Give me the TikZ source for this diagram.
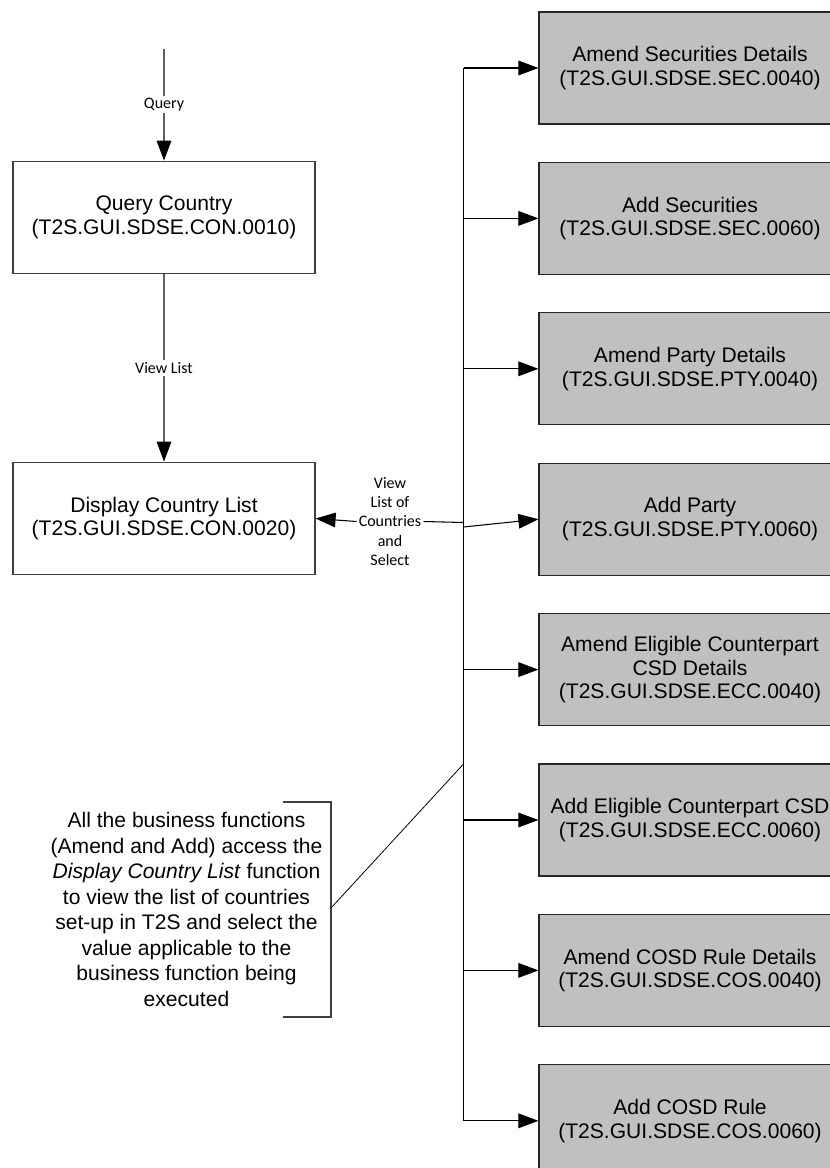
\documentclass[tikz,border=0pt]{standalone}
\usepackage{fontspec}
\setmainfont{Liberation Sans}
\newfontfamily\calfont{Carlito}
\usetikzlibrary{arrows.meta}
\definecolor{boxgray}{HTML}{C0C0C0}
\definecolor{edgegray}{HTML}{404040}
\definecolor{flowgray}{HTML}{606060}
\begin{document}
\begin{tikzpicture}[x=0.75pt,y=-0.75pt,
  fbox/.style={draw=edgegray, line width=0.9pt, minimum width=226.5pt, minimum height=84.5pt,
    align=center, inner sep=0pt, font=\fontsize{15.8}{17.7}\selectfont},
  gbox/.style={fbox, draw=black!85, fill=boxgray, minimum height=84pt},
  tip/.style={-{Triangle[length=15pt,width=11pt,color=black]}},
  flowline/.style={draw=flowgray, line width=0.8pt},
  trunkline/.style={draw=black, line width=0.8pt},
  lbl/.style={font=\calfont\fontsize{12}{14.6}\selectfont, fill=white, inner sep=1.5pt, align=center},
  notetext/.style={font=\fontsize{15.8}{19.1}\selectfont, align=center, inner sep=0pt},
  bracketline/.style={draw=edgegray, line width=0.8pt},
  noteline/.style={draw=black, line width=0.6pt}]
\clip (0,0) rectangle (830,1168);
\fill[white] (0,0) rectangle (830,1168);

% left flow
\node[fbox] (query) at (164,217.5) {Query Country\\(T2S.GUI.SDSE.CON.0010)};
\node[fbox] (display) at (164,518.5) {Display Country List\\(T2S.GUI.SDSE.CON.0020)};
\coordinate (qstart) at (164,49);
\draw[flowline, tip] (qstart) -- node[lbl] {Query} (query.north);
\draw[flowline, tip] (query.south) -- node[lbl] {View List} (display.north);

% right column
\node[gbox] (b1) at (690,68) {Amend Securities Details\\(T2S.GUI.SDSE.SEC.0040)};
\node[gbox] (b2) at (690,218.4) {Add Securities\\(T2S.GUI.SDSE.SEC.0060)};
\node[gbox] (b3) at (690,368.8) {Amend Party Details\\(T2S.GUI.SDSE.PTY.0040)};
\node[gbox] (b4) at (690,519.2) {Add Party\\(T2S.GUI.SDSE.PTY.0060)};
\node[gbox] (b5) at (690,669.6) {Amend Eligible Counterpart\\CSD Details\\(T2S.GUI.SDSE.ECC.0040)};
\node[gbox] (b6) at (690,820) {Add Eligible Counterpart CSD\\(T2S.GUI.SDSE.ECC.0060)};
\node[gbox] (b7) at (690,970.4) {Amend COSD Rule Details\\(T2S.GUI.SDSE.COS.0040)};
\node[gbox] (b8) at (690,1120.8) {Add COSD Rule\\(T2S.GUI.SDSE.COS.0060)};

\coordinate (ttop) at (463.5,68);
\coordinate (tbot) at (463.5,1120.8);
\draw[trunkline] (ttop) -- (tbot);
\foreach \b in {b1,b2,b3,b5,b6,b7,b8}
  \draw[trunkline, tip] (ttop |- \b.west) -- (\b.west);

% select connector
\node[lbl, fill=none] (sel) at (390,521.5) {View\\List of\\Countries\\and\\Select};
\coordinate (j1) at (463.5,522.5);
\coordinate (j2) at (463.5,527);
\draw[trunkline, tip] (sel.west) -- (display.east);
\draw[trunkline] (sel.east) -- (j1);
\draw[trunkline, tip] (j2) -- (b4.west);

% annotation
\node[notetext] (note) at (186.5,909.5) {All the business functions\\(Amend and Add) access the\\\textit{Display Country List} function\\to view the list of countries\\set-up in T2S and select the\\value applicable to the\\business function being\\executed};
\coordinate (nb1) at (283,802);
\coordinate (nb2) at (331,802);
\coordinate (nb3) at (331,1017);
\coordinate (nb4) at (283,1017);
\coordinate (nmid) at (331,908);
\coordinate (tj) at (463.5,764);
\draw[bracketline] (nb1) -- (nb2) -- (nb3) -- (nb4);
\draw[noteline] (nmid) -- (tj);
\end{tikzpicture}
\end{document}
